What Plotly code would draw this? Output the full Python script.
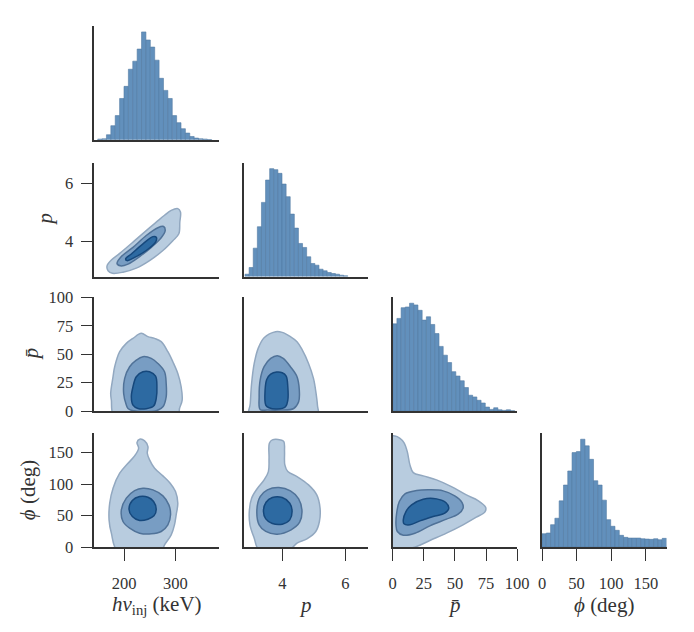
import plotly.graph_objects as go
import numpy as np

# ---------------- data: marginal histograms (bin start, bin width, counts) ----------------
HNU_BIN_START = 148.6
HNU_BIN_WIDTH = 8.56
HNU_COUNTS = [0.7, 1, 5, 14, 24, 41, 53, 70, 78, 90, 107, 99, 92, 79, 61, 49, 41, 24, 17,
              11, 6.7, 3.3, 1.7, 1, 0.7, 0.3]

P_BIN_START = 2.822
P_BIN_WIDTH = 0.130
P_COUNTS = [2.3, 9, 28.3, 49.7, 74, 96.3, 107.7, 106.7, 103, 92.3, 79.7, 62.3, 48.3, 33,
            29, 19.7, 13, 11.3, 7.3, 5.7, 4, 3, 2.3, 1.3, 0.7]

PBAR_BIN_START = 0.0
PBAR_BIN_WIDTH = 3.38
PBAR_COUNTS = [86.3, 91.7, 102.3, 103, 106.7, 105, 99.7, 90, 93.3, 85.7, 76.7, 64, 55.3, 48,
               39, 34.7, 30, 23.3, 15.7, 14, 10.7, 8, 4, 1.7, 3.3, 1.3, 0.7, 1.3, 0.3]

PHI_BIN_START = 0.0
PHI_BIN_WIDTH = 6.207
PHI_COUNTS = [13.3, 14, 22.3, 28.7, 46, 61.7, 75.7, 94, 95, 107.3, 100.7, 87.3, 66, 61.7,
              46.7, 27.3, 20.7, 16.7, 11.7, 9.7, 9, 9, 9, 8.3, 8, 7.7, 8.3, 7.3, 8.7]

# ---------------- data: KDE contour outlines (outer / middle / inner level) ----------------
HNU_P_OUTER = [(168.9, 2.98), (166.9, 3.15), (175.3, 3.35), (191.6, 3.58), (217.5, 3.97),
               (243.4, 4.37), (262.9, 4.66), (279.1, 4.90), (292.1, 5.07), (305.0, 5.13),
               (310.2, 5.01), (308.9, 4.66), (307.0, 4.26), (295.3, 4.02), (275.9, 3.68),
               (249.9, 3.33), (224.0, 3.07), (198.0, 2.93), (177.3, 2.89)]
HNU_P_MID = [(186.4, 3.23), (194.8, 3.47), (217.5, 3.79), (243.4, 4.20), (266.1, 4.47),
             (277.2, 4.51), (280.4, 4.37), (272.6, 4.12), (253.2, 3.79), (230.5, 3.47),
             (207.8, 3.21), (192.9, 3.15)]
HNU_P_INNER = [(203.2, 3.39), (214.3, 3.56), (237.0, 3.91), (256.4, 4.16), (262.9, 4.14),
               (261.6, 3.97), (243.4, 3.68), (220.7, 3.44), (205.8, 3.33)]

HNU_PBAR_OUTER = [(181.8, -5), (175.3, 9.7), (174.0, 15.5), (178.6, 30.2), (181.8, 39.0),
                  (191.6, 52.2), (204.5, 59.5), (217.5, 63.9), (233.7, 68.3), (246.7, 65.4),
                  (259.7, 63.9), (272.6, 61.0), (285.6, 52.2), (295.3, 43.4), (305.0, 33.1),
                  (311.5, 21.4), (313.5, 9.7), (308.3, 2.3), (305.0, -5)]
HNU_PBAR_MID = [(207.8, 2.3), (204.5, 5.3), (199.3, 15.5), (201.3, 28.7), (211.0, 39.0),
                (224.0, 44.8), (236.9, 47.8), (253.2, 46.3), (266.1, 41.9), (279.1, 34.6),
                (282.3, 24.3), (282.3, 12.6), (275.9, 3.8), (262.9, 0.3), (217.5, 0.3)]
HNU_PBAR_INNER = [(217.5, 5.3), (214.3, 12.6), (217.5, 21.4), (224.0, 30.2), (236.9, 34.6),
                  (249.9, 34.6), (261.6, 30.8), (264.2, 21.4), (262.9, 11.1), (257.7, 4.4),
                  (243.4, 2.1), (227.2, 2.3)]

P_PBAR_OUTER = [(2.957, -5), (2.988, 6.7), (3.030, 24.3), (3.113, 41.9), (3.238, 55.1),
                (3.426, 64.5), (3.790, 69.8), (3.999, 69.2), (4.259, 65.4), (4.467, 61.0),
                (4.624, 54.2), (4.832, 41.9), (4.988, 28.7), (5.071, 15.5), (5.113, 5.3),
                (5.113, -5)]
P_PBAR_MID = [(3.301, 1.4), (3.269, 12.6), (3.301, 27.3), (3.426, 39.0), (3.634, 46.3),
              (3.842, 48.7), (4.030, 46.3), (4.259, 39.0), (4.467, 30.2), (4.540, 18.5),
              (4.519, 8.2), (4.363, 2.3), (3.947, 0.9), (3.530, 0.9)]
P_PBAR_INNER = [(3.478, 5.3), (3.457, 18.5), (3.509, 27.8), (3.634, 32.5), (3.822, 34.3),
                (3.999, 33.7), (4.124, 30.8), (4.176, 21.4), (4.176, 9.7), (4.103, 3.8),
                (3.842, 1.8), (3.582, 2.9)]

HNU_PHI_OUTER = [(188.3, -7), (175.3, 22.1), (170.8, 43.2), (172.1, 69.6), (178.6, 93.4),
                 (191.6, 117.2), (207.8, 133.0), (220.7, 144.6), (228.5, 156.8), (225.3, 165.8),
                 (230.5, 171.1), (240.2, 168.4), (246.7, 159.4), (245.4, 148.9), (249.9, 138.3),
                 (259.7, 125.1), (275.9, 113.0), (290.1, 101.3), (300.5, 88.1), (305.0, 69.6),
                 (301.8, 51.2), (298.5, 35.3), (292.1, 19.5), (279.1, 3.6), (272.6, -7)]
HNU_PHI_MID = [(194.8, 59.1), (204.5, 77.6), (220.7, 89.7), (237.0, 93.4), (256.4, 90.8),
               (275.9, 81.3), (287.5, 67.0), (290.8, 51.2), (285.6, 35.3), (272.6, 24.7),
               (253.2, 21.0), (230.5, 22.1), (211.0, 30.0), (198.0, 40.6)]
HNU_PHI_INNER = [(209.7, 60.1), (216.2, 73.9), (230.5, 80.2), (246.7, 79.1), (257.7, 72.3),
                 (262.9, 60.1), (258.4, 49.6), (246.7, 44.3), (230.5, 42.2), (216.2, 48.5)]

P_PHI_OUTER = [(3.269, -4.3), (3.113, 14.2), (2.978, 35.3), (2.957, 56.5), (3.030, 77.6),
               (3.217, 93.4), (3.426, 106.6), (3.561, 119.8), (3.582, 141.0), (3.592, 164.7),
               (3.686, 170.0), (3.947, 170.0), (4.051, 167.4), (4.072, 151.5), (4.082, 130.4),
               (4.176, 119.8), (4.467, 111.9), (4.832, 98.7), (5.092, 82.9), (5.197, 61.7),
               (5.176, 40.6), (5.061, 24.8), (4.780, 13.1), (4.467, 6.3), (4.259, -2.7)]
P_PHI_MID = [(3.197, 59.1), (3.301, 80.2), (3.530, 90.8), (3.895, 94.5), (4.259, 89.2),
             (4.519, 76.5), (4.624, 57.5), (4.551, 39.5), (4.280, 27.4), (3.842, 20.5),
             (3.478, 24.8), (3.269, 35.3)]
P_PHI_INNER = [(3.405, 56.5), (3.488, 71.2), (3.686, 78.6), (3.999, 78.6), (4.238, 69.6),
               (4.311, 56.5), (4.238, 43.2), (3.999, 36.4), (3.686, 37.4), (3.478, 44.8)]

PBAR_PHI_OUTER = [(-4.8, 172.6), (1.84, 176.3), (5.84, 172.6), (9.04, 165.8), (11.71, 151.5),
                  (13.84, 130.4), (16.51, 118.2), (24.51, 113.0), (35.17, 106.6), (47.17, 96.0),
                  (59.17, 82.8), (68.51, 73.9), (74.64, 63.3), (74.11, 55.9), (67.17, 47.4),
                  (56.51, 35.3), (43.17, 22.1), (29.84, 10.5), (19.17, 1.0), (5.84, -5.4),
                  (-4.8, -5.4)]
PBAR_PHI_MID = [(2.64, 35.3), (3.17, 53.8), (5.31, 72.3), (9.84, 84.4), (19.17, 89.7),
                (29.84, 90.8), (40.51, 89.2), (49.84, 81.3), (55.71, 70.7), (56.51, 61.7),
                (52.51, 52.2), (43.17, 44.3), (29.84, 33.7), (17.84, 22.1), (8.51, 18.9),
                (3.71, 24.7)]
PBAR_PHI_INNER = [(8.51, 43.2), (10.64, 56.4), (15.17, 67.0), (24.51, 76.0), (35.17, 76.5),
                  (42.64, 70.7), (45.04, 61.7), (41.84, 53.8), (32.51, 48.5), (21.84, 41.6),
                  (13.84, 35.3), (9.04, 36.9)]

# ---------------- axis ranges / ticks / labels ----------------
COL_RANGES = [[142, 385], [2.78, 6.72], [0, 100], [0, 180]]
ROW_RANGES = [None, [2.78, 6.72], [0, 100], [0, 180.5]]
COL_TICKS = [[200, 300], [4, 6], [0, 25, 50, 75, 100], [0, 50, 100, 150]]
ROW_TICKS = [None, [4, 6], [0, 25, 50, 75, 100], [0, 50, 100, 150]]
X_LABELS = ["<i>hν</i><sub>inj</sub> (keV)", "<i>p</i>", "<i>p\u0304</i>", "<i>ϕ</i> (deg)"]
Y_LABELS = [None, "<i>p</i>", "<i>p\u0304</i>", "<i>ϕ</i> (deg)"]

HISTS = [
    (HNU_BIN_START, HNU_BIN_WIDTH, HNU_COUNTS),
    (P_BIN_START, P_BIN_WIDTH, P_COUNTS),
    (PBAR_BIN_START, PBAR_BIN_WIDTH, PBAR_COUNTS),
    (PHI_BIN_START, PHI_BIN_WIDTH, PHI_COUNTS),
]
KDES = {
    (1, 0): (HNU_P_OUTER, HNU_P_MID, HNU_P_INNER),
    (2, 0): (HNU_PBAR_OUTER, HNU_PBAR_MID, HNU_PBAR_INNER),
    (2, 1): (P_PBAR_OUTER, P_PBAR_MID, P_PBAR_INNER),
    (3, 0): (HNU_PHI_OUTER, HNU_PHI_MID, HNU_PHI_INNER),
    (3, 1): (P_PHI_OUTER, P_PHI_MID, P_PHI_INNER),
    (3, 2): (PBAR_PHI_OUTER, PBAR_PHI_MID, PBAR_PHI_INNER),
}

# ---------------- styling ----------------
W, H = 694, 632
FONT = "Liberation Serif, 'Times New Roman', Times, serif"
AXC = "#333333"
BAR_FILL = "rgb(98,144,188)"
BAR_EDGE = "rgb(82,122,162)"
LEVEL_FILL = ["rgb(184,204,223)", "rgb(120,157,195)", "rgb(45,106,162)"]
LEVEL_LINE = ["rgb(146,168,192)", "rgb(80,114,152)", "rgb(22,72,124)"]

COL_X0 = [94.3, 243.7, 392.7, 542.0]
COL_W = 124.5
ROW_Y0 = [26.0, 162.7, 297.3, 433.3]
ROW_H = 113.8

panels = [(r, c) for r in range(4) for c in range(r + 1)]

fig = go.Figure()
layout = dict(
    template="none",
    width=W, height=H, margin=dict(l=0, r=0, t=0, b=0, pad=0, autoexpand=False),
    paper_bgcolor="white", plot_bgcolor="white", showlegend=False,
    font=dict(family=FONT, color=AXC, size=16),
)
annotations = []

for k, (r, c) in enumerate(panels, start=1):
    xname = "x" if k == 1 else f"x{k}"
    yname = "y" if k == 1 else f"y{k}"
    xkey = "xaxis" if k == 1 else f"xaxis{k}"
    ykey = "yaxis" if k == 1 else f"yaxis{k}"

    if r == c:
        start, width, counts = HISTS[c]
        counts = np.array(counts, dtype=float)
        centers = start + width * (np.arange(len(counts)) + 0.5)
        fig.add_trace(go.Bar(x=centers, y=counts, width=width, xaxis=xname, yaxis=yname,
                             marker=dict(color=BAR_FILL, line=dict(color=BAR_EDGE, width=0.6)),
                             hoverinfo="skip"))
        yrange = [0, counts.max() * 1.055]
    else:
        for lvl, poly in enumerate(KDES[(r, c)]):
            xs = [p[0] for p in poly] + [poly[0][0]]
            ys = [p[1] for p in poly] + [poly[0][1]]
            fig.add_trace(go.Scatter(x=xs, y=ys, mode="lines", fill="toself",
                                     fillcolor=LEVEL_FILL[lvl],
                                     line=dict(color=LEVEL_LINE[lvl], width=1.5,
                                               shape="spline", smoothing=1.0),
                                     xaxis=xname, yaxis=yname, hoverinfo="skip"))
        yrange = ROW_RANGES[r]

    bottom = (r == 3)
    left_ticks = (c == 0 and r > 0)
    xd = [COL_X0[c] / W, (COL_X0[c] + COL_W) / W]
    yd = [1 - (ROW_Y0[r] + ROW_H) / H, 1 - ROW_Y0[r] / H]

    xa = dict(
        domain=xd, anchor=yname, range=COL_RANGES[c], showgrid=False, zeroline=False,
        automargin=False,
        showline=True, linecolor=AXC, linewidth=1.6, showticklabels=bottom,
        ticks="outside" if bottom else "", ticklen=12, tickwidth=1.4, tickcolor=AXC,
        tickfont=dict(family=FONT, size=16.5, color=AXC),
    )
    if bottom:
        xa.update(tickvals=COL_TICKS[c], ticklabelstandoff=8)
    ya = dict(
        domain=yd, anchor=xname, range=yrange, showgrid=False, zeroline=False,
        automargin=False,
        showline=True, linecolor=AXC, linewidth=1.6, showticklabels=left_ticks,
        ticks="outside" if left_ticks else "", ticklen=12, tickwidth=1.4, tickcolor=AXC,
        tickfont=dict(family=FONT, size=16.5, color=AXC),
    )
    if left_ticks:
        ya.update(tickvals=ROW_TICKS[r], ticklabelstandoff=4)
    layout[xkey] = xa
    layout[ykey] = ya

# axis titles
for c in range(4):
    annotations.append(dict(text=X_LABELS[c], xref="paper", yref="paper",
                            x=(COL_X0[c] + COL_W / 2) / W, y=1 - 605 / H,
                            xanchor="center", yanchor="middle", showarrow=False,
                            font=dict(family=FONT, size=21, color=AXC)))
Y_LABEL_X = [None, 45, 31, 28]
for r in range(1, 4):
    annotations.append(dict(text=Y_LABELS[r], xref="paper", yref="paper",
                            x=Y_LABEL_X[r] / W, y=1 - (ROW_Y0[r] + ROW_H / 2) / H,
                            xanchor="center", yanchor="middle", textangle=-90, showarrow=False,
                            font=dict(family=FONT, size=21, color=AXC)))

layout["annotations"] = annotations
fig.update_layout(**layout)
fig.write_html("out.html")
